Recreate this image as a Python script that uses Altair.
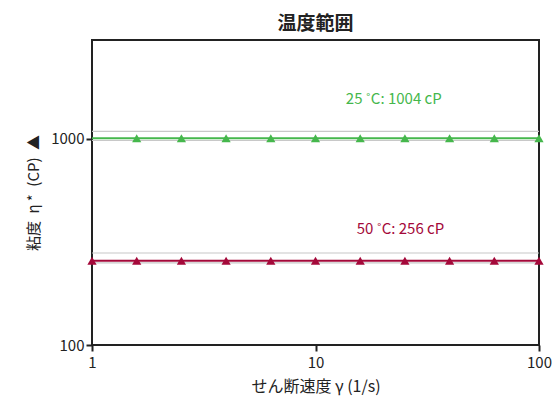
import altair as alt
import pandas as pd

# Shear-rate sweep points (1/s)
shear_rate = [1, 1.585, 2.512, 3.981, 6.310, 10, 15.85, 25.12, 39.81, 63.10, 100]

# Complex viscosity at 25 °C (first point not plotted) and 50 °C, cP
visc_25 = [None, 1004, 1004, 1004, 1004, 1004, 1004, 1004, 1004, 1004, 1004]
visc_50 = [256, 256, 256, 256, 256, 256, 256, 256, 256, 256, 256]

series_names = ["25 °C", "50 °C"]
series_colors = ["#45b74c", "#a4093a"]
mean_values = [1004, 256]
label_texts = ["25 ˚C: 1004 cP", "50 ˚C: 256 cP"]
label_x = [22.4, 24.0]
label_y = [1560, 363]

# Tolerance band limits drawn as thin grey lines
band_low = [978, 250]
band_high = [1084, 279]

x_min, x_max = 1, 100
y_min, y_max = 100, 3000

rows = []
for name, vals in zip(series_names, [visc_25, visc_50]):
    for x, v in zip(shear_rate, vals):
        if v is not None:
            rows.append({"series": name, "rate": x, "eta": v})
points = pd.DataFrame(rows)

lines = pd.DataFrame({
    "series": series_names,
    "x0": [x_min, x_min],
    "x1": [x_max, x_max],
    "eta": mean_values,
})
bands = pd.DataFrame({
    "x0": [x_min] * 4,
    "x1": [x_max] * 4,
    "eta": band_low + band_high,
})
labels = pd.DataFrame({
    "series": series_names,
    "text": label_texts,
    "x": label_x,
    "y": label_y,
})

font = "Noto Sans CJK JP"
xscale = alt.Scale(type="log", domain=[x_min, x_max], nice=False)
yscale = alt.Scale(type="log", domain=[y_min, y_max], nice=False)
color = alt.Color("series:N", scale=alt.Scale(domain=series_names, range=series_colors), legend=None)

x_axis = alt.Axis(
    title="せん断速度 γ (1/s)", values=[1, 10, 100], format="d",
    labelFontSize=15, titleFontSize=16, titleFontWeight="normal",
    labelColor="#222", titleColor="#222", tickColor="#222", domain=False,
    tickSize=6, tickWidth=2, labelPadding=4, titlePadding=8, grid=False,
    labelFlush=False,
)
y_axis = alt.Axis(
    title="粘度\u2002η *\u2002(CP)\u2002▲", values=[100, 1000], format="d",
    labelFontSize=15, titleFontSize=15, titleFontWeight="normal",
    labelColor="#222", titleColor="#222", tickColor="#222", domain=False,
    tickSize=6, tickWidth=2, labelPadding=2, titlePadding=9, grid=False,
)

band_layer = alt.Chart(bands).mark_rule(color="#c8c8c8", strokeWidth=1.2).encode(
    x=alt.X("x0:Q", scale=xscale, axis=x_axis),
    x2="x1:Q",
    y=alt.Y("eta:Q", scale=yscale, axis=y_axis),
)

line_layer = alt.Chart(lines).mark_rule(strokeWidth=2).encode(
    x=alt.X("x0:Q", scale=xscale),
    x2="x1:Q",
    y=alt.Y("eta:Q", scale=yscale),
    color=color,
)

point_layer = alt.Chart(points).mark_point(
    shape="triangle-up", filled=True, size=85, opacity=1
).encode(
    x=alt.X("rate:Q", scale=xscale),
    y=alt.Y("eta:Q", scale=yscale),
    color=color,
)

text_layer = alt.Chart(labels).mark_text(font=font, fontSize=15, align="center", baseline="middle").encode(
    x=alt.X("x:Q", scale=xscale),
    y=alt.Y("y:Q", scale=yscale),
    text="text:N",
    color=color,
)

chart = (
    alt.layer(band_layer, line_layer, point_layer, text_layer)
    .properties(
        width=447,
        height=305,
        title=alt.TitleParams("温度範囲", font=font, fontSize=19, fontWeight="bold", color="#222", anchor="middle", offset=6),
        autosize=alt.AutoSizeParams(type="none"),
        padding={"left": 92, "top": 40, "right": 14, "bottom": 51},
    )
    .configure_view(stroke="#222", strokeWidth=2)
    .configure_axis(labelFont=font, titleFont=font)
    .configure_title(font=font)
)

chart.save("out.html", embed_options={"renderer": "svg", "actions": False})
